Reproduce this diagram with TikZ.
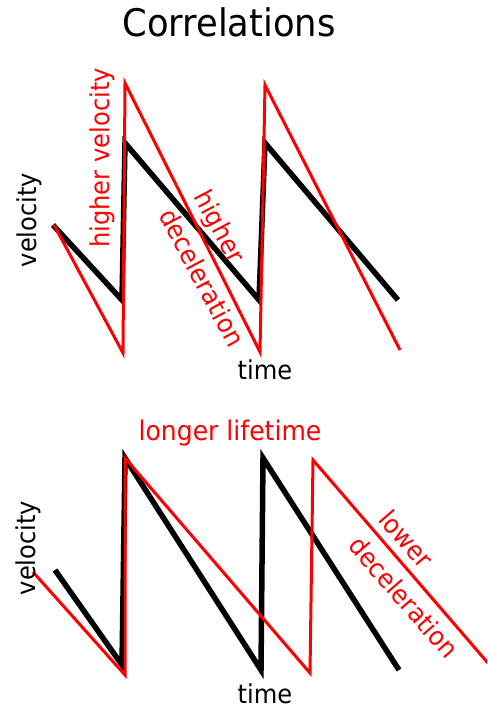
\documentclass[tikz,border=0pt]{standalone}
\usepackage{fontspec}
\setmainfont[FakeStretch=0.93]{DejaVu Sans}
\begin{document}
\begin{tikzpicture}[x=1pt,y=-1pt,
  lbl/.style={inner sep=0pt,font=\fontsize{26}{40}\selectfont},
  redlbl/.style={lbl,text=red},
  blk/.style={line width=5.5pt,black,line join=miter},
  rd/.style={line width=3pt,red,line join=miter}]
\clip (0,0) rectangle (487,709);
\fill[white] (0,0) rectangle (487,709);
% title
\node[inner sep=0pt,anchor=base,font=\fontsize{38}{40}\selectfont] (title) at (229,37) {Correlations};
% ---------- top graph ----------
\draw[blk] (53,225) -- (122,300) -- (125,143) -- (259,300) -- (265,143) -- (398,300);
\draw[rd] (54,225) -- (123,353) -- (125,83) -- (260,352) -- (265,85) -- (400,350);
\node[lbl,rotate=90] (v1) at (29,220) {velocity};
\node[redlbl,rotate=90] (hv) at (102,158) {higher velocity};
\node[redlbl,rotate=-62,align=left] (hd) at (220,268) {higher\\deceleration};
\node[lbl,anchor=base] (t1) at (265,379) {time};
% ---------- bottom graph ----------
\draw[blk] (55,570) -- (122,665) -- (125,458) -- (261,670) -- (263,458) -- (399,670);
\draw[rd] (33,572) -- (125,675) -- (125,458) -- (310,673) -- (313,460) -- (500,677);
\node[redlbl,anchor=base,font=\fontsize{27}{40}\selectfont] (ll) at (230,440) {longer lifetime};
\node[lbl,rotate=90] (v2) at (28,548) {velocity};
\node[redlbl,rotate=-49,align=left] (ld) at (419,584) {lower\\deceleration};
\node[lbl,anchor=base] (t2) at (265,703) {time};
\end{tikzpicture}
\end{document}
